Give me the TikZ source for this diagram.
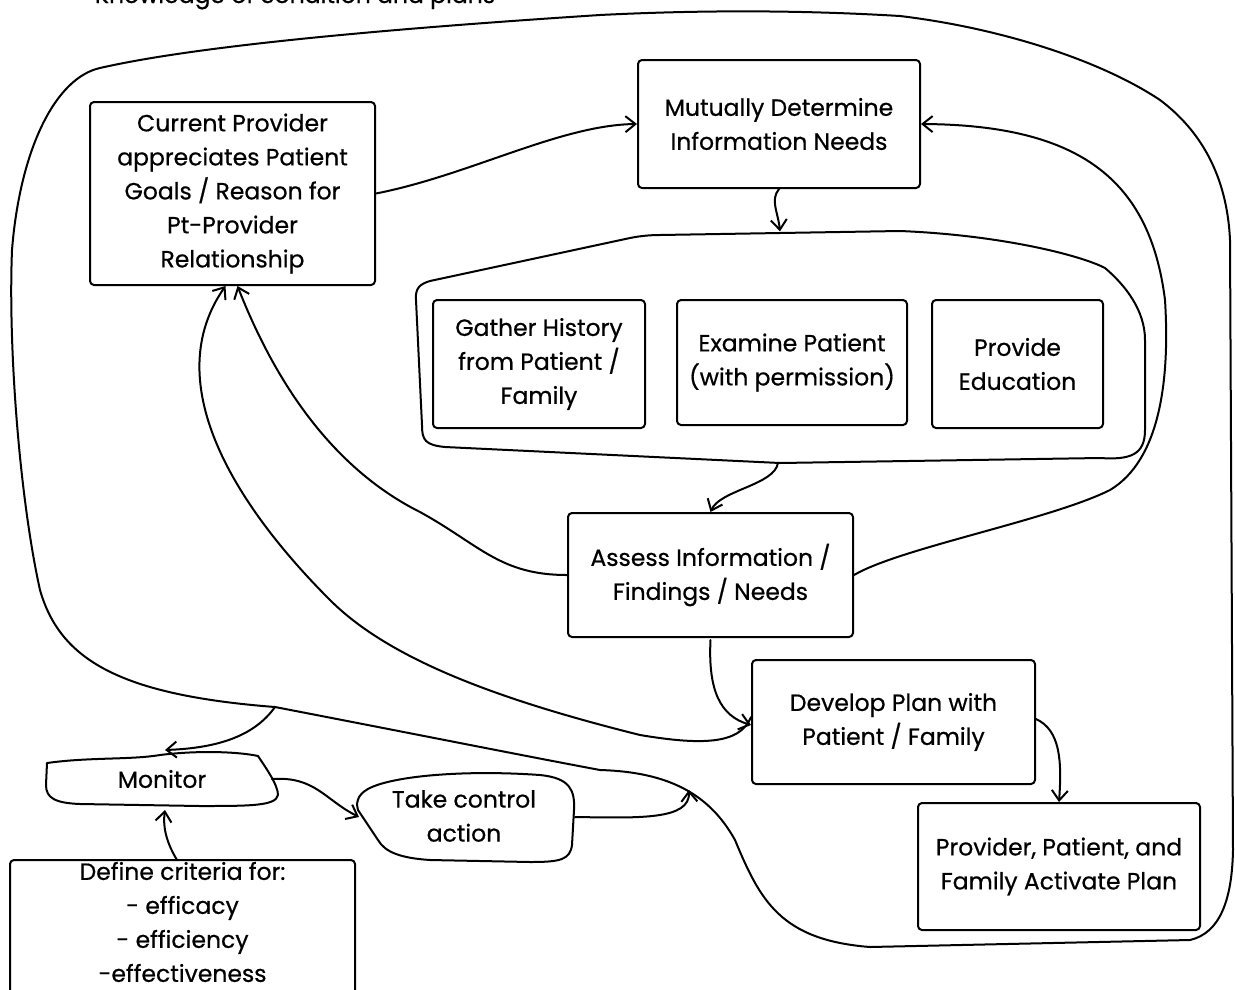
\documentclass[tikz,border=0pt]{standalone}
\usepackage{fontspec}
\setmainfont{Poppins}[FakeBold=0.6]
\usetikzlibrary{arrows.meta}
\begin{document}
\begin{tikzpicture}[x=1pt,y=-1pt,
  ln/.style={line width=2pt, line join=round, line cap=round},
  box/.style={ln, draw, rounded corners=4pt, align=center, inner sep=0pt},
  txt/.style={align=center, inner sep=0pt},
  arr/.style={ln, -{Straight Barb[length=10pt,width=16pt]}},
  every node/.style={font=\fontsize{23.5}{34}\selectfont}]
\useasboundingbox (0,0) rectangle (1235,989);

% top note (partly cut off)
\node[txt, anchor=base] (kn) at (295,3) {Knowledge of condition and plans};

% main boxes
\node[box, minimum width=285pt, minimum height=183pt] (cp) at (232.5,193.5)
  {Current Provider\\appreciates Patient\\Goals / Reason for\\Pt-Provider\\Relationship};
\node[box, minimum width=282pt, minimum height=128pt] (md) at (779,124)
  {Mutually Determine\\Information Needs};
\node[minimum width=730pt, minimum height=231pt, inner sep=0pt] (grp) at (780,347) {};
\draw[ln] (416,300) .. controls (415,288) and (420,284) .. (430,281)
  -- (630,238) .. controls (640,236) and (650,235) .. (660,235)
  -- (900,231)
  .. controls (1000,235) and (1080,255) .. (1105,268)
  .. controls (1125,285) and (1145,310) .. (1145,340) -- (1145,430)
  .. controls (1145,455) and (1130,460) .. (1100,458) -- (780,463) -- (445,447)
  .. controls (425,445) and (422,440) .. (422,425) -- cycle;
\node[box, minimum width=212pt, minimum height=128pt] (gh) at (539,364)
  {Gather History\\from Patient /\\Family};
\node[box, minimum width=230pt, minimum height=125pt] (ex) at (792,362.5)
  {Examine Patient\\(with permission)};
\node[box, minimum width=171pt, minimum height=128pt] (pe) at (1017.5,364)
  {Provide\\Education};
\node[box, minimum width=285pt, minimum height=124pt] (as) at (710.5,575)
  {Assess Information /\\Findings / Needs};
\node[box, minimum width=283pt, minimum height=124pt] (dp) at (893.5,722)
  {Develop Plan with\\Patient / Family};
\node[box, minimum width=282pt, minimum height=127pt] (pp) at (1059,866.5)
  {Provider, Patient, and\\Family Activate Plan};

% monitor blob
\node[txt, minimum width=232pt, minimum height=52pt] (mon) at (162,779) {Monitor};
\draw[ln] (47,763) .. controls (90,757) and (130,760) .. (160,755)
  .. controls (200,750) and (240,752) .. (258,756)
  .. controls (266,768) and (278,785) .. (278,795)
  .. controls (276,806) and (250,806) .. (200,806) -- (80,804)
  .. controls (55,803) and (46,798) .. (46,785) -- cycle;

% take control blob
\node[txt, minimum width=218pt, minimum height=90pt] (tca) at (464,816) {Take control\\action};
\draw[ln] (372,787) .. controls (400,775) and (470,770) .. (540,775)
  .. controls (570,778) and (575,790) .. (574,810) -- (572,845)
  .. controls (570,860) and (560,862) .. (530,862) -- (430,860)
  .. controls (400,858) and (385,852) .. (378,840) -- (358,810)
  .. controls (355,800) and (360,792) .. (372,787) -- cycle;

% define criteria
\node[box, minimum width=345pt, minimum height=150pt] (dc) at (182.5,935) {};
\node[txt] (dct) at (182.5,922) {Define criteria for:\\- efficacy\\- efficiency\\-effectiveness};

% big loop
\coordinate (b1) at (275,707);
\coordinate (b2) at (689,790);
\draw[ln] (b1) .. controls (420,735) and (520,755) .. (600,770)
  .. controls (670,772) and (710,795) .. (735,840)
  .. controls (760,900) and (780,940) .. (870,947)
  -- (1190,940) .. controls (1220,933) and (1232,900) .. (1233,850)
  -- (1230,240) .. controls (1227,175) and (1200,130) .. (1160,100)
  .. controls (1100,60) and (1000,28) .. (900,16)
  .. controls (800,10) and (700,10) .. (600,15)
  .. controls (400,28) and (200,45) .. (100,68)
  .. controls (55,78) and (20,150) .. (12,250)
  .. controls (8,350) and (20,500) .. (40,590)
  .. controls (60,660) and (120,695) .. (b1);

% connectors
\draw[arr] (cp.east) .. controls (470,175) and (560,125) .. (md.west);
\draw[arr] (md.south) .. controls (770,200) and (778,212) .. (grp.north);
\draw[arr] ([xshift=-2pt]grp.south) .. controls (775,485) and (720,490) .. (as.north);
\draw[arr] (as.west) .. controls (500,575) and (480,545) .. (420,512)
  .. controls (360,482) and (290,420) .. ([xshift=5pt]cp.south);
\draw[arr] ([yshift=5pt]dp.west) .. controls (740,745) and (700,745) .. (640,735)
  .. controls (500,700) and (390,660) .. (330,600)
  .. controls (230,500) and (160,380) .. ([xshift=-7pt]cp.south);
\draw[arr] (as.east) .. controls (900,548) and (1050,520) .. (1110,490)
  .. controls (1160,460) and (1170,380) .. (1165,300)
  .. controls (1150,180) and (1080,125) .. (md.east);
\draw[arr] ([yshift=-2pt]as.south) .. controls (708,690) and (720,716) .. ([yshift=-3pt]dp.west);
\draw[arr] ([yshift=3pt]dp.east) .. controls (1060,730) and (1062,760) .. (pp.north);
\draw[arr] (b1) .. controls (255,735) and (220,748) .. (165,750);
\draw[arr] (272,779) .. controls (315,776) and (325,800) .. (359,817);
\draw[arr] (177,860) .. controls (165,840) and (163,825) .. (165,810);
\draw[arr] (575,817) .. controls (640,818) and (690,820) .. (b2);
\end{tikzpicture}
\end{document}
